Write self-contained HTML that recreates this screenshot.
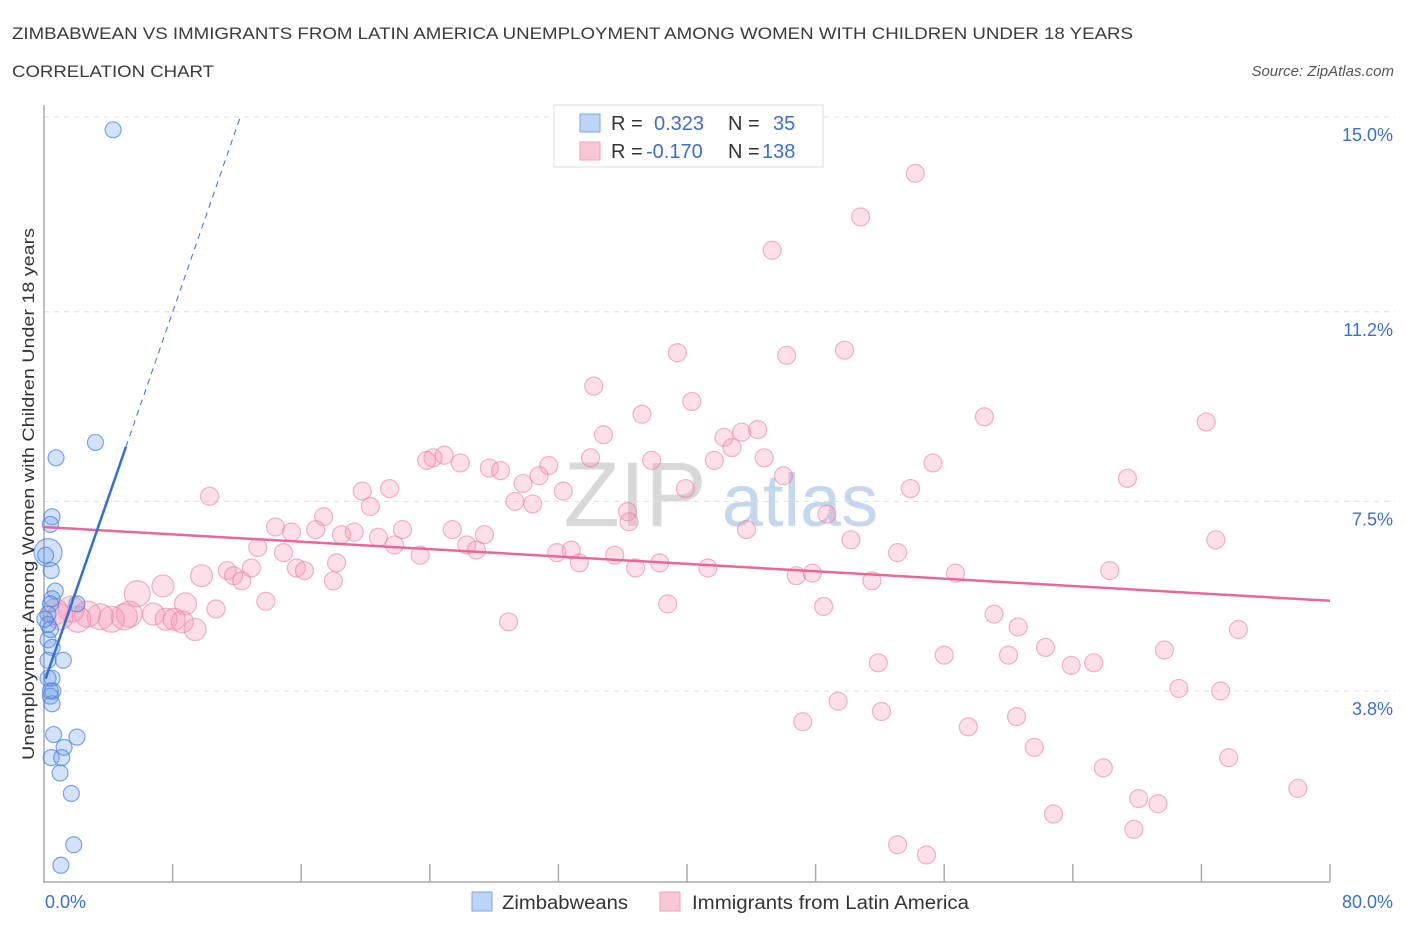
<!DOCTYPE html>
<html><head><meta charset="utf-8"><style>
body{margin:0;background:#fff;font-family:"Liberation Sans",sans-serif}
svg text{font-family:"Liberation Sans",sans-serif}
</style></head><body>
<svg id="chart" width="1406" height="930" xmlns="http://www.w3.org/2000/svg">
<text x="12" y="39" font-size="17" fill="#3a3a3a" textLength="1121" lengthAdjust="spacingAndGlyphs">ZIMBABWEAN VS IMMIGRANTS FROM LATIN AMERICA UNEMPLOYMENT AMONG WOMEN WITH CHILDREN UNDER 18 YEARS</text>
<text x="12" y="77" font-size="17" fill="#3a3a3a" textLength="202" lengthAdjust="spacingAndGlyphs">CORRELATION CHART</text>
<text x="1394" y="76" font-size="15" fill="#555" text-anchor="end" font-style="italic">Source: ZipAtlas.com</text>
<g>
<text x="635" y="526" font-size="92" fill="#d8d8d8" text-anchor="middle" font-family="Liberation Serif,serif">ZIP</text>
<text x="800" y="526" font-size="74" fill="#c5d6ef" text-anchor="middle">atlas</text>
</g>
<g id="grid"></g>
<g id="axes"></g>
<g id="pink"></g>
<g id="blue"></g>
<g id="lines"></g>
<text transform="translate(34,494) rotate(-90)" font-size="17" fill="#333" text-anchor="middle" textLength="532" lengthAdjust="spacingAndGlyphs">Unemployment Among Women with Children Under 18 years</text>
<g>
<rect x="554" y="105" width="269" height="62" fill="#fff" stroke="#ddd"/>
<rect x="580" y="114" width="20" height="18" fill="#bcd4f5" stroke="#7aa6e6"/>
<rect x="580" y="142" width="20" height="18" fill="#f9c6d5" stroke="#eea0b8"/>
<text x="611" y="130" font-size="20" fill="#333">R =</text><text x="654" y="130" font-size="20" fill="#3a6fcf">0.323</text>
<text x="728" y="130" font-size="20" fill="#333">N =</text><text x="773" y="130" font-size="20" fill="#3a6fcf">35</text>
<text x="611" y="158" font-size="20" fill="#333">R =</text><text x="646" y="158" font-size="20" fill="#3a6fcf">-0.170</text>
<text x="728" y="158" font-size="20" fill="#333">N =</text><text x="762" y="158" font-size="20" fill="#3a6fcf">138</text>
</g>
<g>
<rect x="472" y="892" width="20" height="19" fill="#bcd4f5" stroke="#7aa6e6"/>
<text x="502" y="909" font-size="19" fill="#333" textLength="126" lengthAdjust="spacingAndGlyphs">Zimbabweans</text>
<rect x="660" y="892" width="20" height="19" fill="#f9c6d5" stroke="#eea0b8"/>
<text x="692" y="909" font-size="19" fill="#333" textLength="277" lengthAdjust="spacingAndGlyphs">Immigrants from Latin America</text>
</g>
</svg>
<script>
const yTicks=[15.0,11.2,7.5,3.8];
const yTickLabels=["15.0%","11.2%","7.5%","3.8%"];
const xEndLabels=["0.0%","80.0%"];
const blueX=[4.3,3.2,0.75,0.5,0.4,0.25,0.45,0.7,0.5,2.05,0.4,0.25,0.4,0.25,0.5,1.2,0.25,0.5,0.55,0.4,0.5,0.6,2.05,1.25,0.45,1.1,1.0,1.7,1.85,1.05,0.25,0.05,0.25,0.1,0.4];
const blueY=[14.75,8.65,8.35,7.2,7.05,6.5,6.15,5.75,5.6,5.5,5.5,5.3,5.0,4.8,4.65,4.4,4.4,4.05,3.8,3.7,3.55,2.95,2.9,2.7,2.5,2.5,2.2,1.8,0.8,0.4,5.1,5.2,4.05,6.45,3.8];
const pinkX=[54.2,50.8,45.3,39.4,46.2,49.8,34.2,40.3,37.2,58.5,72.3,34.8,42.3,43.4,44.4,42.8,44.8,24.2,23.8,24.9,25.9,31.4,34.0,37.8,41.7,27.7,28.4,55.3,30.8,46.0,29.8,67.4,32.3,10.3,19.8,21.5,39.9,53.9,29.3,30.4,20.3,17.4,36.3,48.7,25.4,36.4,14.4,15.4,22.3,27.4,16.9,19.3,20.8,18.5,21.8,26.3,26.9,43.7,50.2,72.9,13.3,14.9,31.9,32.8,35.5,33.3,23.4,18.2,53.1,36.8,38.3,15.7,16.2,11.4,12.9,11.8,12.3,9.8,41.3,46.8,47.8,56.7,66.3,18.0,51.5,7.4,5.8,13.8,38.8,48.5,8.8,10.7,59.1,28.9,60.6,74.3,5.3,6.8,7.6,8.1,8.6,9.4,4.2,5.0,3.5,2.7,2.1,1.7,1.0,0.7,62.3,56.0,60.0,69.7,51.9,63.9,65.3,70.6,73.2,49.4,52.1,60.5,47.2,57.5,61.6,73.7,65.9,78.0,68.1,69.3,62.8,67.8,53.1,54.9];
const pinkY=[13.9,13.05,12.4,10.4,10.35,10.45,9.75,9.45,9.2,9.15,9.05,8.8,8.75,8.85,8.9,8.55,8.35,8.35,8.3,8.4,8.25,8.2,8.35,8.3,8.3,8.15,8.1,8.25,8.0,8.0,7.85,7.95,7.7,7.6,7.7,7.75,7.75,7.75,7.5,7.45,7.4,7.2,7.3,7.25,6.95,7.1,7.0,6.9,6.95,6.85,6.95,6.9,6.8,6.85,6.65,6.65,6.55,6.95,6.75,6.75,6.6,6.5,6.5,6.55,6.45,6.3,6.45,6.3,6.5,6.2,6.3,6.2,6.15,6.15,6.2,6.05,5.95,6.05,6.2,6.05,6.1,6.1,6.15,5.95,5.95,5.85,5.7,5.55,5.5,5.45,5.5,5.4,5.3,5.15,5.05,5.0,5.3,5.3,5.2,5.2,5.15,5.0,5.2,5.25,5.25,5.3,5.2,5.4,5.25,5.35,4.65,4.5,4.5,4.6,4.35,4.3,4.35,3.85,3.8,3.6,3.4,3.3,3.2,3.1,2.7,2.5,2.3,1.9,1.7,1.6,1.4,1.1,0.8,0.6];
const blueFit=[3.95,0.905];
const pinkFit=[7.0,-0.018];
const NS="http://www.w3.org/2000/svg";
const X0=44,X1=1330,Y15=117,Y38=691;
function sx(v){return X0+(v/80)*(X1-X0);}
function sy(v){return Y15+(15-v)*(Y38-Y15)/11.2;}
function mk(tag,attrs,parent){const e=document.createElementNS(NS,tag);for(const k in attrs)e.setAttribute(k,attrs[k]);parent.appendChild(e);return e;}
const grid=document.getElementById('grid'),axes=document.getElementById('axes');
yTicks.forEach((t,i)=>{
 const l=mk('line',{x1:X0,x2:1395,y1:sy(t),y2:sy(t),stroke:'#ddd','stroke-dasharray':'5,5'},grid);
 
 
 const tx=mk('text',{x:1393,y:sy(t)+24,'font-size':18,fill:'#3a6fcf','text-anchor':'end'},grid);
 tx.textContent=yTickLabels[i];
 
 
});
const ya=mk('line',{x1:X0,x2:X0,y1:105,y2:883,stroke:'#aaa','stroke-width':1.5},axes);


const xa=mk('line',{x1:X0,x2:X1,y1:882,y2:882,stroke:'#aaa','stroke-width':1.5},axes);


for(let k=1;k<=10;k++){
 const t=mk('line',{x1:sx(k*8),x2:sx(k*8),y1:864,y2:882,stroke:'#aaa','stroke-width':1.5},axes);
 
 
}
[[0,'start',45],[80,'end',1393]].forEach((d,i)=>{
 const t=mk('text',{x:d[2],y:908,'font-size':18,fill:'#3a6fcf','text-anchor':d[1]},axes);
 t.textContent=xEndLabels[i];
 
 
});
const pg=document.getElementById('pink');
pinkX.forEach((x,i)=>{
 const r=x<6?13:(x<10?11:9);
 const c=mk('circle',{cx:sx(x),cy:sy(pinkY[i]),r:r,fill:'rgba(244,150,180,0.3)',stroke:'rgba(232,120,155,0.55)','stroke-width':1.2},pg);
 
 
});
const bg=document.getElementById('blue');
blueX.forEach((x,i)=>{
 const r=i===5?14:8;
 const c=mk('circle',{cx:sx(x),cy:sy(blueY[i]),r:r,fill:'rgba(110,160,235,0.3)',stroke:'rgba(70,130,220,0.7)','stroke-width':1.2},bg);
 
 
});
const lg=document.getElementById('lines');
const pl=mk('line',{x1:sx(0),y1:sy(pinkFit[0]),x2:sx(80),y2:sy(pinkFit[0]+pinkFit[1]*80),stroke:'#e8679a','stroke-width':2.5},lg);


const bl=mk('line',{x1:sx(0.1),y1:sy(blueFit[0]+blueFit[1]*0.1),x2:sx(5.1),y2:sy(blueFit[0]+blueFit[1]*5.1),stroke:'#2f6fd6','stroke-width':2.5},lg);


const bd=mk('line',{x1:sx(5.1),y1:sy(blueFit[0]+blueFit[1]*5.1),x2:sx(12.2),y2:sy(blueFit[0]+blueFit[1]*12.2),stroke:'#2f6fd6','stroke-width':1,'stroke-dasharray':'6,5'},lg);


</script>
</body></html>
